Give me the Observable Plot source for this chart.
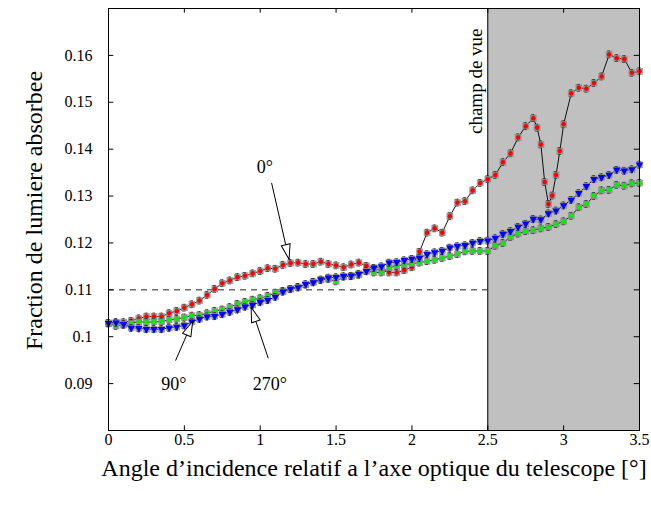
<!DOCTYPE html>
<html><head><meta charset="utf-8">
<script src="https://cdn.jsdelivr.net/npm/d3@7"></script>
<script src="https://cdn.jsdelivr.net/npm/@observablehq/plot@0.6"></script>
<style>body{margin:0;background:#fff}</style>
</head><body><div id="chart"></div>
<script>
// ---- data ----
const angles = [0,0.05,0.1,0.15,0.2,0.25,0.3,0.35,0.4,0.45,0.5,0.55,0.6,0.65,0.7,0.75,0.8,0.85,0.9,0.95,1,1.05,1.1,1.15,1.2,1.25,1.3,1.35,1.4,1.45,1.5,1.55,1.6,1.65,1.7,1.75,1.8,1.85,1.9,1.95,2,2.05,2.1,2.15,2.2,2.25,2.3,2.35,2.4,2.45,2.5,2.55,2.6,2.65,2.7,2.75,2.8,2.85,2.9,2.95,3,3.05,3.1,3.15,3.2,3.25,3.3,3.35,3.4,3.45,3.5];
const redAngles = [0,0.05,0.1,0.15,0.2,0.25,0.3,0.35,0.4,0.45,0.5,0.55,0.6,0.65,0.7,0.75,0.8,0.85,0.9,0.95,1,1.05,1.1,1.15,1.2,1.25,1.3,1.35,1.4,1.45,1.5,1.55,1.6,1.65,1.7,1.75,1.8,1.85,1.9,1.95,2,2.05,2.1,2.15,2.2,2.25,2.3,2.35,2.4,2.45,2.5,2.55,2.6,2.65,2.7,2.75,2.8,2.825,2.85,2.875,2.9,2.925,2.95,2.975,3,3.05,3.1,3.15,3.2,3.25,3.3,3.35,3.4,3.45,3.5];
const red0 = [0.1029,0.1031,0.1031,0.1034,0.1039,0.1043,0.1043,0.1043,0.1050,0.1055,0.1062,0.1069,0.1077,0.1089,0.1102,0.1114,0.1120,0.1127,0.1130,0.1135,0.1140,0.1146,0.1145,0.1153,0.1157,0.1158,0.1155,0.1155,0.1160,0.1155,0.1152,0.1148,0.1154,0.1158,0.1151,0.1145,0.1142,0.1137,0.1137,0.1142,0.1148,0.1181,0.1222,0.1231,0.1222,0.1257,0.1286,0.1289,0.1312,0.1328,0.1336,0.1345,0.1372,0.1391,0.1425,0.1449,0.1466,0.1446,0.1410,0.1330,0.1283,0.1301,0.1345,0.1396,0.1453,0.1519,0.1531,0.1529,0.1541,0.1555,0.1602,0.1594,0.1592,0.1563,0.1566];
const blue90 = [0.1029,0.1030,0.1027,0.1019,0.1018,0.1016,0.1016,0.1016,0.1019,0.1021,0.1024,0.1032,0.1038,0.1043,0.1044,0.1048,0.1053,0.1058,0.1064,0.1068,0.1074,0.1078,0.1085,0.1096,0.1102,0.1105,0.1112,0.1116,0.1122,0.1126,0.1127,0.1129,0.1130,0.1134,0.1140,0.1147,0.1150,0.1158,0.1159,0.1163,0.1166,0.1168,0.1176,0.1180,0.1183,0.1190,0.1193,0.1195,0.1200,0.1204,0.1205,0.1210,0.1219,0.1225,0.1234,0.1241,0.1251,0.1250,0.1263,0.1269,0.1280,0.1292,0.1306,0.1321,0.1336,0.1340,0.1345,0.1356,0.1354,0.1357,0.1367];
const green270 = [0.1028,0.1023,0.1025,0.1029,0.1032,0.1031,0.1032,0.1032,0.1036,0.1038,0.1041,0.1045,0.1046,0.1050,0.1055,0.1058,0.1063,0.1070,0.1074,0.1079,0.1082,0.1087,0.1094,0.1098,0.1102,0.1106,0.1111,0.1117,0.1121,0.1123,0.1118,0.1128,0.1129,0.1132,0.1140,0.1137,0.1137,0.1147,0.1151,0.1154,0.1156,0.1158,0.1161,0.1164,0.1168,0.1172,0.1176,0.1182,0.1183,0.1183,0.1183,0.1194,0.1200,0.1213,0.1220,0.1225,0.1227,0.1231,0.1234,0.1240,0.1246,0.1258,0.1276,0.1283,0.1300,0.1312,0.1313,0.1324,0.1322,0.1327,0.1328];
const xTicks = [0,0.5,1,1.5,2,2.5,3,3.5];
const yTicks = [0.09,0.1,0.11,0.12,0.13,0.14,0.15,0.16];
const yTickLabels = ["0.09","0.1","0.11","0.12","0.13","0.14","0.15","0.16"];
const xTickLabels = ["0","0.5","1","1.5","2","2.5","3","3.5"];
const fieldStart = 2.5, fieldEnd = 3.5;
const refLevel = 0.11;
const fieldLabel = "champ de vue";
const xTitle = "Angle d\u2019incidence relatif a l\u2019axe optique du telescope [\u00b0]";
const yTitle = "Fraction de lumiere absorbee";
// annotations: label position and arrow start/end, in data units
const annLabels = ["0\u00b0","90\u00b0","270\u00b0"];
const annTextX = [1.03, 0.43, 1.063];
const annTextY = [0.1362, 0.0898, 0.0898];
const annFromX = [1.075, 0.442, 1.053];
const annFromY = [0.1328, 0.0949, 0.0954];
const annToX = [1.19, 0.555, 0.94];
const annToY = [0.1165, 0.1033, 0.1063];

// ---- build tables ----
const X_DOMAIN = [0, 3.5], Y_DOMAIN = [0.08, 0.17];
const seriesDefs = [
  {xs: redAngles, ys: red0, color: "#ff0000", symbol: "circle", rot: 0},
  {xs: angles, ys: green270, color: "#00f000", symbol: "circle", rot: 0},
  {xs: angles, ys: blue90, color: "#0000ff", symbol: "triangle", rot: 180}
];
const ERR = 0.0007, CAP = 0.011;
const ann = annLabels.map((t, i) => ({t, tx: annTextX[i], ty: annTextY[i], x1: annFromX[i], y1: annFromY[i], x2: annToX[i], y2: annToY[i]}));

const W = 651, H = 511;
const margins = {marginLeft: 108, marginRight: 12, marginTop: 8, marginBottom: 81};
const pxX = v => margins.marginLeft + (v - X_DOMAIN[0]) / (X_DOMAIN[1] - X_DOMAIN[0]) * (W - margins.marginLeft - margins.marginRight);
const pxY = v => (H - margins.marginBottom) - (v - Y_DOMAIN[0]) / (Y_DOMAIN[1] - Y_DOMAIN[0]) * (H - margins.marginTop - margins.marginBottom);
ann.forEach(a => {
  const dx = pxX(a.x2) - pxX(a.x1), dy = pxY(a.y2) - pxY(a.y1);
  a.rot = Math.atan2(dx, -dy) * 180 / Math.PI;
});
const arrowHead = {draw(ctx) { ctx.moveTo(0, 0); ctx.lineTo(-4.5, 15); ctx.lineTo(4.5, 15); ctx.closePath(); }};

const marks = [
  Plot.rect([{x1: fieldStart, x2: fieldEnd}], {x1: "x1", x2: "x2", fill: "#c0c0c0"}),
  Plot.ruleX([fieldStart], {stroke: "#000", strokeWidth: 1}),
  Plot.ruleY([refLevel], {x1: X_DOMAIN[0], x2: fieldStart, stroke: "#222", strokeDasharray: "6,5"}),
  Plot.text([fieldLabel], {x: fieldStart, frameAnchor: "top", dy: 20, dx: -12, rotate: -90, textAnchor: "end", lineAnchor: "middle", fontSize: 19, fill: "#000"}),
];
for (const s of seriesDefs) {
  const rows = s.xs.map((x, i) => ({x, y: s.ys[i]}));
  marks.push(
    Plot.line(rows, {x: "x", y: "y", stroke: "#111", strokeWidth: 1}),
    Plot.ruleX(rows, {x: "x", y1: d => d.y - ERR, y2: d => d.y + ERR, stroke: "#111", strokeWidth: 1}),
    Plot.ruleY(rows, {y: d => d.y - ERR, x1: d => d.x - CAP, x2: d => d.x + CAP, stroke: "#111", strokeWidth: 1}),
    Plot.ruleY(rows, {y: d => d.y + ERR, x1: d => d.x - CAP, x2: d => d.x + CAP, stroke: "#111", strokeWidth: 1}),
    Plot.dot(rows, {x: "x", y: "y", r: 3.8, fill: "#8c8c8c", fillOpacity: 0.85, symbol: "square"}),
    Plot.dot(rows, {x: "x", y: "y", r: s.symbol === "triangle" ? 2.8 : 2.3, fill: s.color, symbol: s.symbol, rotate: s.rot, stroke: "none"})
  );
}
marks.push(
  // inward ticks on all four sides
  Plot.ruleX(xTicks, {y1: Y_DOMAIN[0], y2: Y_DOMAIN[0] + 0.001, stroke: "#000"}),
  Plot.ruleX(xTicks, {y1: Y_DOMAIN[1] - 0.001, y2: Y_DOMAIN[1], stroke: "#000"}),
  Plot.ruleY(yTicks, {x1: X_DOMAIN[0], x2: X_DOMAIN[0] + 0.035, stroke: "#000"}),
  Plot.ruleY(yTicks, {x1: X_DOMAIN[1] - 0.035, x2: X_DOMAIN[1], stroke: "#000"}),
  Plot.frame({stroke: "#000", strokeWidth: 1}),
  Plot.axisX(xTicks, {tickSize: 0, tickPadding: 3, fontSize: 16, tickFormat: (d, i) => xTickLabels[i], label: null}),
  Plot.axisY(yTicks, {tickSize: 0, tickPadding: 16, fontSize: 16, tickFormat: (d, i) => yTickLabels[i], label: null}),
  // annotations
  Plot.link(ann, {x1: "x1", y1: "y1", x2: "x2", y2: "y2", stroke: "#000", strokeWidth: 1}),
  Plot.dot(ann, {x: "x2", y: "y2", symbol: () => arrowHead, r: 4, rotate: "rot", fill: "#fff", stroke: "#000", strokeWidth: 1}),
  Plot.text(ann, {x: "tx", y: "ty", text: "t", fontSize: 18, fill: "#000"}),
  // titles
  Plot.text([xTitle], {frameAnchor: "bottom", dy: 38, fontSize: 24, textAnchor: "middle", lineAnchor: "middle", fill: "#000"}),
  Plot.text([yTitle], {frameAnchor: "left", dx: -74, dy: -9, rotate: -90, fontSize: 24, textAnchor: "middle", lineAnchor: "middle", fill: "#000"})
);

const chart = Plot.plot({
  width: W, height: H, ...margins,
  style: {fontFamily: "'Liberation Serif', 'Times New Roman', serif", fontSize: "16px", background: "#fff", color: "#000"},
  x: {domain: X_DOMAIN},
  y: {domain: Y_DOMAIN},
  symbol: {type: "identity"},
  marks
});
document.getElementById("chart").appendChild(chart);
</script>
</body></html>
